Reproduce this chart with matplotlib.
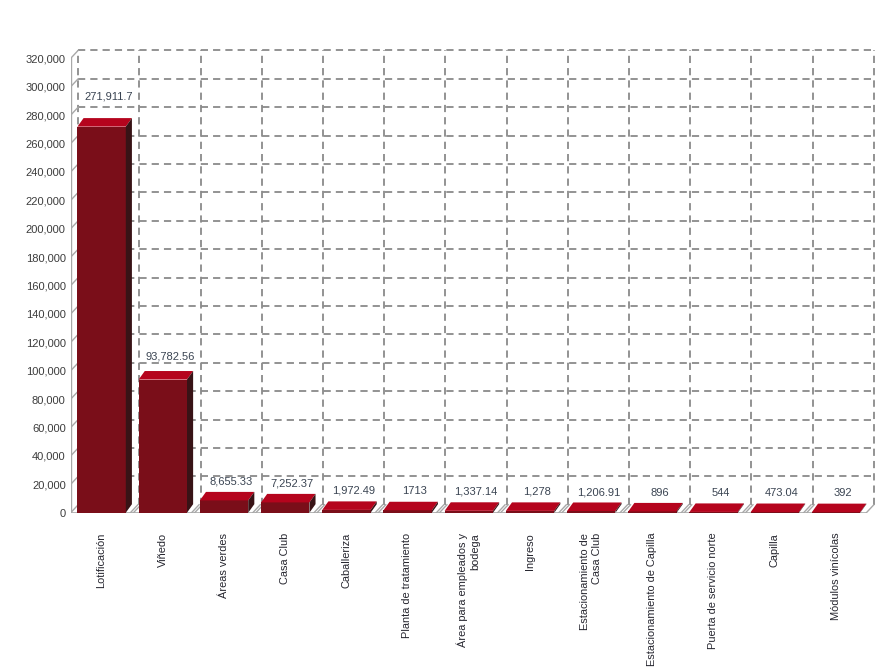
"""Superficie por uso de suelo: pseudo-3D bar chart (front face + top + side)."""

import matplotlib

matplotlib.use("Agg")
import matplotlib.pyplot as plt  # noqa: E402
from matplotlib.patches import Polygon  # noqa: E402

plt.rcParams["font.family"] = ["Liberation Sans", "DejaVu Sans"]

categories = [
    "Lotificación", "Viñedo", "Áreas verdes", "Casa Club", "Caballeriza",
    "Planta de tratamiento", "Área para empleados y\nbodega", "Ingreso",
    "Estacionamiento de\nCasa Club", "Estacionamiento de Capilla",
    "Puerta de servicio norte", "Capilla", "Módulos vinícolas",
]
values = [271911.7, 93782.56, 8655.33, 7252.37, 1972.49, 1713, 1337.14,
          1278, 1206.91, 896, 544, 473.04, 392]
value_labels = ["271,911.7", "93,782.56", "8,655.33", "7,252.37", "1,972.49",
                "1713", "1,337.14", "1,278", "1,206.91", "896", "544",
                "473.04", "392"]
y_ticks = list(range(0, 320001, 20000))

# look
FRONT_C, TOP_C, SIDE_C = "#7a0e19", "#b5041d", "#381316"
GRID_C, WALL_C = "#8a8a8a", "#a8a8a8"
TEXT_C, VAL_C = "#26262f", "#3a4452"
YMAX = 320000
DX, DY = 0.122, 5600          # depth of the back wall (x units, value units)
BAR_OFF, BAR_W = 0.11, 0.79   # bar front face inside its slot
BDX, BDY = 0.10, 6000         # depth of each bar
LABEL_GAIN, LABEL_LIFT = 1.0285, 13300   # label centre = gain * value + lift

n = len(categories)
fig = plt.figure(figsize=(8.85, 6.71), dpi=100)
ax = fig.add_axes([0.0799, 0.2359, 0.9198, 0.7195])
ax.set_xlim(0, 13.3)
ax.set_ylim(0, 340000)
for s in ax.spines.values():
    s.set_visible(False)

dash = (0, (4.0, 2.8))
# back wall grid
for v in y_ticks[1:]:
    ax.plot([DX, n + DX], [v + DY, v + DY], color=GRID_C, lw=1.3, ls=dash, zorder=1)
for k in range(n + 1):
    ax.plot([k + DX, k + DX], [DY, YMAX + DY], color=GRID_C, lw=1.3, ls=dash, zorder=1)

# left wall: front edge + diagonal ticks
ax.plot([0, 0], [0, YMAX], color=WALL_C, lw=1.0, zorder=2)
for v in y_ticks:
    ax.plot([0, DX], [v, v + DY], color=WALL_C, lw=1.0, zorder=2)

# floor: front edge and slot separators
ax.plot([0, n], [0, 0], color=WALL_C, lw=1.2, zorder=2)
for k in range(1, n + 1):
    for off in (-0.025, 0.025) if k < n else (0.0,):
        ax.plot([k + off, k + off + DX], [0, DY], color=WALL_C, lw=1.0, zorder=2)

# bars
lefts = [k + BAR_OFF for k in range(n)]
ax.bar(lefts, values, width=BAR_W, align="edge", color=FRONT_C, zorder=4)
for x, v in zip(lefts, values):
    top = [(x, v), (x + BAR_W, v), (x + BAR_W + BDX, v + BDY), (x + BDX, v + BDY)]
    side = [(x + BAR_W, 0), (x + BAR_W + BDX, BDY), (x + BAR_W + BDX, v + BDY), (x + BAR_W, v)]
    ax.add_patch(Polygon(top, closed=True, facecolor=TOP_C, edgecolor="none", zorder=5))
    ax.add_patch(Polygon(side, closed=True, facecolor=SIDE_C, edgecolor="none", zorder=5))

# value labels, centred on the back-plane slot
for k, (v, lab) in enumerate(zip(values, value_labels)):
    ax.text(k + 0.5 + DX, LABEL_GAIN * v + LABEL_LIFT, lab, ha="center", va="center",
            fontsize=8, color=VAL_C, zorder=6)

ax.set_yticks(y_ticks)
ax.set_yticklabels([f"{v:,}" for v in y_ticks], fontsize=8, color="#3c3c3c")
ax.set_xticks([k + 0.5 for k in range(n)])
ax.set_xticklabels(categories, rotation=90, fontsize=7.9, color=TEXT_C,
                   multialignment="right")
ax.tick_params(axis="y", length=0, pad=3.6)
ax.tick_params(axis="x", length=0, pad=14.5)

fig.savefig("out.png", dpi=100)
plt.close(fig)
